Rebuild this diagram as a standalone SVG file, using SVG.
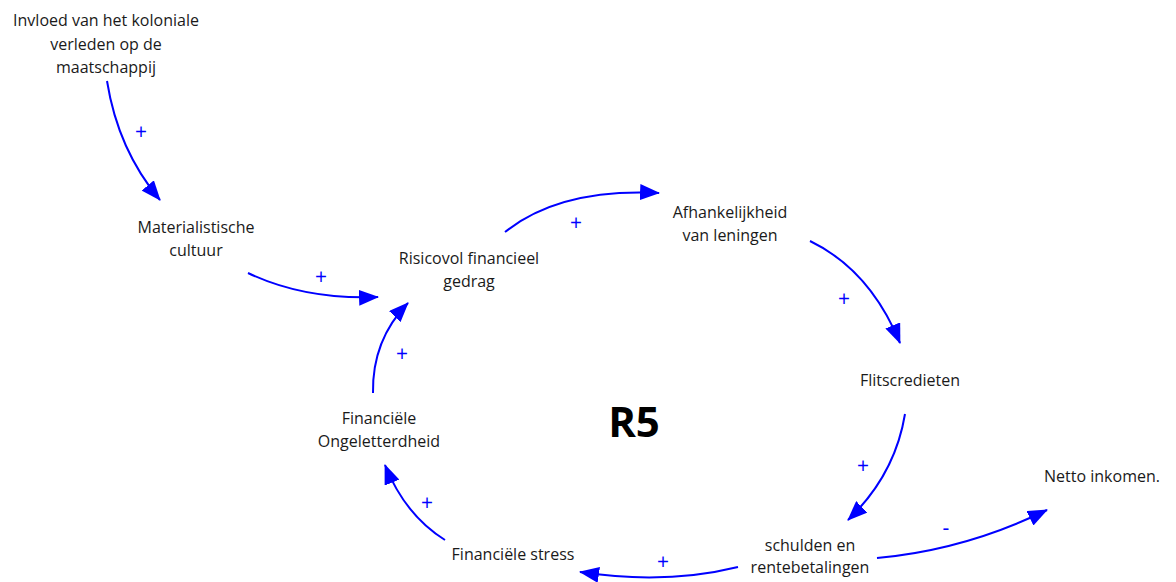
<svg xmlns="http://www.w3.org/2000/svg" width="1176" height="582" viewBox="0 0 1176 582">
<style>
.t{font-family:"Open Sans","Liberation Sans",sans-serif;font-size:16px;fill:#1a1a1a;text-anchor:middle}
.p{font-family:"Open Sans","Liberation Sans",sans-serif;font-size:21px;fill:#0000ff;text-anchor:middle}
.c{fill:none;stroke:#0000ff;stroke-width:2}
</style>
<defs>
<marker id="ah" markerUnits="userSpaceOnUse" markerWidth="20" markerHeight="16" refX="19" refY="8" orient="auto">
<path d="M0,0 L20,8 L0,16 z" fill="#0000ff"/>
</marker>
</defs>
<rect width="1176" height="582" fill="#fff"/>
<g id="n1"><text class="t" x="106" y="26">Invloed van het koloniale</text><text class="t" x="106" y="50">verleden op de</text><text class="t" x="106" y="73">maatschappij</text></g>
<g id="n2"><text class="t" x="196" y="233">Materialistische</text><text class="t" x="196" y="256">cultuur</text></g>
<g id="n3"><text class="t" x="469" y="264">Risicovol financieel</text><text class="t" x="469" y="287">gedrag</text></g>
<g id="n4"><text class="t" x="730" y="218">Afhankelijkheid</text><text class="t" x="730" y="241">van leningen</text></g>
<g id="n5"><text class="t" x="910" y="386">Flitscredieten</text></g>
<g id="n6"><text class="t" x="810" y="551">schulden en</text><text class="t" x="810" y="573">rentebetalingen</text></g>
<g id="n7"><text class="t" x="1102" y="482">Netto inkomen.</text></g>
<g id="n8"><text class="t" x="513" y="560">Financiële stress</text></g>
<g id="n9"><text class="t" x="379" y="424">Financiële</text><text class="t" x="379" y="447">Ongeletterdheid</text></g>
<g id="r5"><text x="634" y="437" font-family="Open Sans,Liberation Sans,sans-serif" font-size="42" font-weight="bold" text-anchor="middle" fill="#000">R5</text></g>
<g id="connectors">
<path class="c" marker-end="url(#ah)" d="M107,81 Q118,150 160,200"/>
<text class="p" x="141" y="139">+</text>
<path class="c" marker-end="url(#ah)" d="M248,273 Q305,300 378,297"/>
<text class="p" x="321" y="284">+</text>
<path class="c" marker-end="url(#ah)" d="M505,232 Q560,188 659,193"/>
<text class="p" x="576" y="230">+</text>
<path class="c" marker-end="url(#ah)" d="M810,241 Q870,270 900,343"/>
<text class="p" x="844" y="306">+</text>
<path class="c" marker-end="url(#ah)" d="M905,414 Q895,475 848,520"/>
<text class="p" x="863" y="473">+</text>
<path class="c" marker-end="url(#ah)" d="M877,558 Q965,550 1047,510"/>
<text class="p" x="946" y="535">-</text>
<path class="c" marker-end="url(#ah)" d="M738,567 Q665,585 580,572"/>
<text class="p" x="663" y="569">+</text>
<path class="c" marker-end="url(#ah)" d="M445,540 Q405,515 385,465"/>
<text class="p" x="427" y="510">+</text>
<path class="c" marker-end="url(#ah)" d="M373,393 Q372,340 408,303"/>
<text class="p" x="402" y="361">+</text>
</g>
</svg>
